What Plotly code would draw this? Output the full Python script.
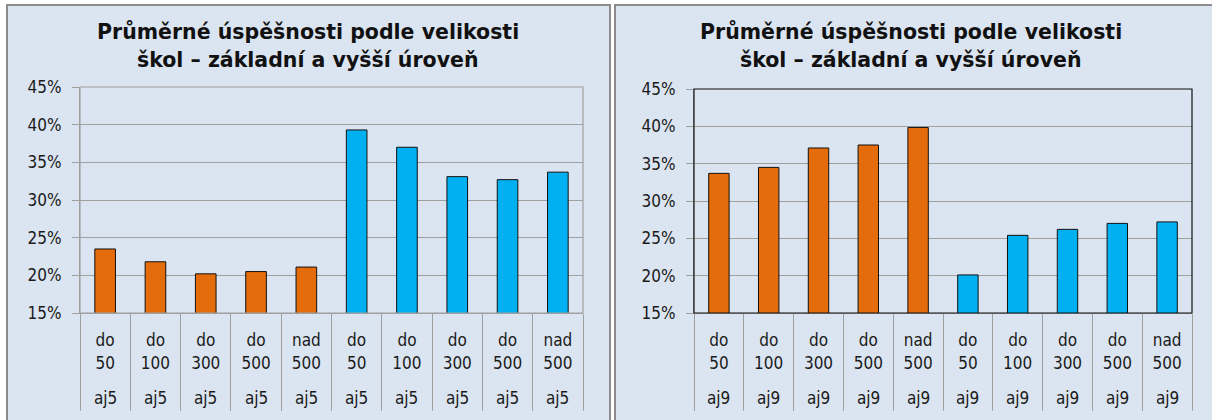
import plotly.graph_objects as go

W, H = 1212, 420

# ---- data ----
size_labels = ["do<br>50", "do<br>100", "do<br>300", "do<br>500", "nad<br>500"]
left_group = "aj5"
right_group = "aj9"
left_basic = [0.235, 0.218, 0.202, 0.205, 0.211]
left_higher = [0.393, 0.370, 0.331, 0.327, 0.337]
right_basic = [0.337, 0.345, 0.371, 0.375, 0.3985]
right_higher = [0.201, 0.254, 0.262, 0.270, 0.272]
title_lines = ["Průměrné úspěšnosti podle velikosti", "škol – základní a vyšší úroveň"]
y_ticks = [0.15, 0.20, 0.25, 0.30, 0.35, 0.40, 0.45]

ORANGE = "#E46C0A"
BLUE = "#00B0F0"
PANEL = "#DBE5F1"
PLOTBG = "#FFFF99"
GRID = "#A0A0A0"
FONT = "DejaVu Sans Condensed, DejaVu Sans, sans-serif"
TFONT = "DejaVu Sans, sans-serif"
TXT = "#1a1a1a"


def px(x):
    return x / W


def py(y):
    return 1 - y / H


fig = go.Figure()

panels = [
    dict(basic=left_basic, higher=left_higher, group=left_group,
         xd=[px(80), px(583)], yd=[py(313), py(87)], xa="x", ya="y", xo="x3",
         frame=[7, 610], center=308, border=GRID),
    dict(basic=right_basic, higher=right_higher, group=right_group,
         xd=[px(694), px(1192)], yd=[py(313), py(89)], xa="x2", ya="y2", xo="x4",
         frame=[615, 1216], center=911, border="#111111"),
]

shapes = []
annotations = []
n = len(size_labels)
positions = list(range(2 * n))
labels_all = size_labels + size_labels

for i, p in enumerate(panels):
    k = "" if i == 0 else "2"
    ko = "3" if i == 0 else "4"
    fig.add_trace(go.Bar(x=positions[:n], y=p["basic"], xaxis=p["xa"], yaxis=p["ya"],
                         marker=dict(color=ORANGE, line=dict(color="#111", width=1)),
                         width=0.41, showlegend=False, hoverinfo="y"))
    fig.add_trace(go.Bar(x=positions[n:], y=p["higher"], xaxis=p["xa"], yaxis=p["ya"],
                         marker=dict(color=BLUE, line=dict(color="#111", width=1)),
                         width=0.41, showlegend=False, hoverinfo="y"))
    # invisible trace for overlay axis (dividers)
    fig.add_trace(go.Scatter(x=[positions[0]], y=[None], xaxis=p["xo"], yaxis=p["ya"],
                             showlegend=False, hoverinfo="skip"))

    fig.update_layout(**{
        f"xaxis{k}": dict(domain=p["xd"], anchor=p["ya"], range=[-0.5, 2 * n - 0.5],
                          tickmode="array", tickvals=positions, ticktext=labels_all,
                          ticks="", showline=True, linecolor=GRID, linewidth=1,
                          showgrid=False, zeroline=False, automargin=False,
                          ticklabelstandoff=12,
                          tickfont=dict(family=FONT, size=17, color=TXT)),
        f"xaxis{ko}": dict(domain=p["xd"], anchor=p["ya"], overlaying=p["xa"],
                           range=[-0.5, 2 * n - 0.5], tickmode="array",
                           tickvals=[v - 0.5 for v in positions] + [2 * n - 0.5],
                           ticks="outside", ticklen=97, tickcolor=GRID, tickwidth=1,
                           showticklabels=False, showgrid=False, zeroline=False,
                           showline=False, automargin=False),
        f"yaxis{k}": dict(domain=p["yd"], anchor=p["xa"], range=[0.15, 0.45],
                          tickmode="array", tickvals=y_ticks, tickformat=".0%",
                          ticks="outside", ticklen=7, tickcolor=GRID,
                          showline=True, linecolor=GRID, linewidth=1,
                          showgrid=True, gridcolor=GRID, gridwidth=1, zeroline=False,
                          automargin=False, ticklabelstandoff=7,
                          tickfont=dict(family=FONT, size=17, color=TXT)),
    })

    # panel background
    shapes.append(dict(type="rect", xref="paper", yref="paper",
                       x0=px(p["frame"][0]), x1=px(p["frame"][1]), y0=py(423), y1=py(5),
                       fillcolor=PANEL, line=dict(color="#8C8C8C", width=2), layer="below"))
    # plot-area frame (top/right)
    shapes.append(dict(type="rect", xref=f"{p['xa']} domain", yref=f"{p['ya']} domain",
                       x0=0, x1=1, y0=0, y1=1, line=dict(color=p["border"], width=1.2),
                       fillcolor="rgba(0,0,0,0)", layer="above"))
    # title
    for j, t in enumerate(title_lines):
        annotations.append(dict(text=f"<b>{t}</b>", xref="paper", yref="paper",
                                x=px(p["center"]), y=py(32 + 28 * j), showarrow=False,
                                xanchor="center", yanchor="middle",
                                font=dict(family=TFONT, size=20.5, color="#111")))
    # group row labels
    for pos in positions:
        annotations.append(dict(text=p["group"], xref=p["xa"], yref="paper",
                                x=pos, y=py(398), showarrow=False,
                                xanchor="center", yanchor="middle",
                                font=dict(family=FONT, size=17, color=TXT)))

fig.update_layout(width=W, height=H, margin=dict(l=0, r=0, t=0, b=0),
                  paper_bgcolor="white", plot_bgcolor=PLOTBG, barmode="overlay",
                  shapes=shapes, annotations=annotations)

fig.write_html("out.html", config={"displayModeBar": False},
               post_script="document.body.style.margin='0';")
